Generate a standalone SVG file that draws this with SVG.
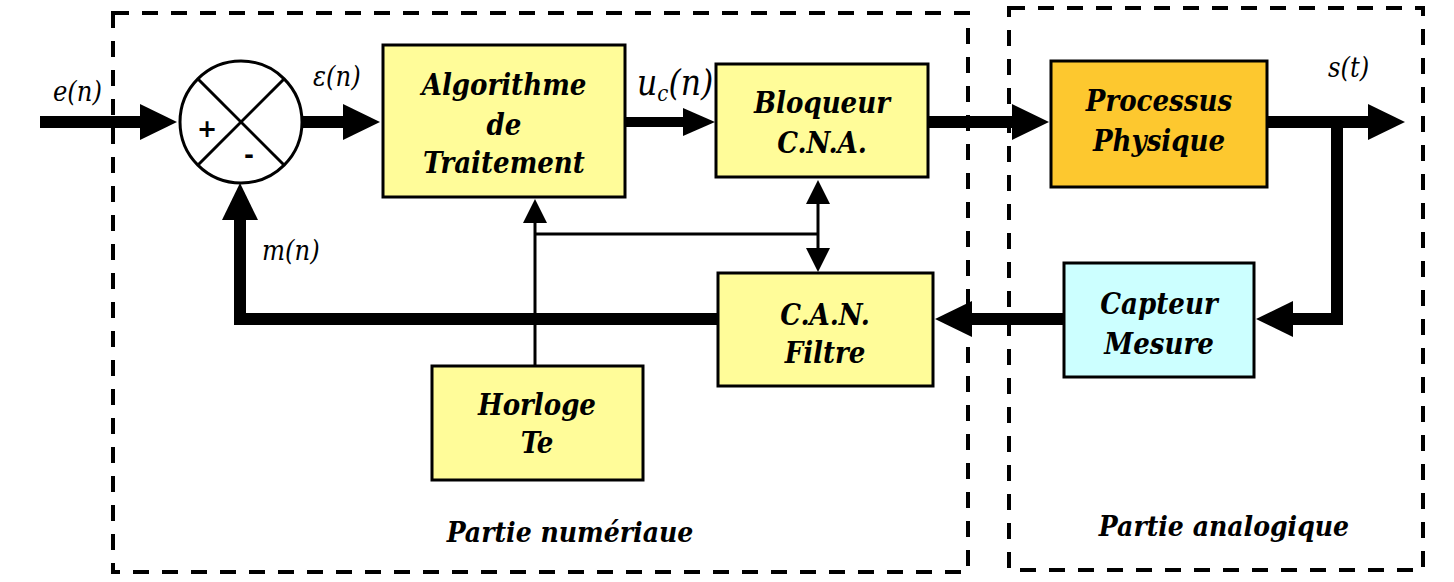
<svg xmlns="http://www.w3.org/2000/svg" width="1454" height="582" viewBox="0 0 1454 582">
<style>
.bg{fill:#fff}
.box{stroke:#000;stroke-width:3}
.yel{fill:#FFFC99}
.org{fill:#FDC82F}
.cyn{fill:#CCFFFF}
.dash{fill:none;stroke:#000;stroke-width:4;stroke-dasharray:16 13}
.lbl{font-weight:bold;font-style:italic;font-size:29px;font-stretch:condensed;text-anchor:middle;fill:#000}
.part{font-weight:bold;font-style:italic;font-size:28px;font-stretch:condensed;text-anchor:middle;fill:#000}
.sig{font-style:italic;font-size:27px;font-stretch:condensed;fill:#000}
.thick{fill:none;stroke:#000;stroke-width:12;stroke-linejoin:miter}
.med{fill:none;stroke:#000;stroke-width:10}
.thin{fill:none;stroke:#000;stroke-width:3}
.sign{font-weight:bold;font-size:24px;text-anchor:middle;fill:#000}
</style>
<defs>
<marker id="ah" viewBox="0 0 37 36" refX="1" refY="18" markerWidth="37" markerHeight="36" markerUnits="userSpaceOnUse" orient="auto-start-reverse"><path d="M0,0 L37,18 L0,36 z" fill="#000"/></marker>
<marker id="am" viewBox="0 0 32 28" refX="1" refY="14" markerWidth="32" markerHeight="28" markerUnits="userSpaceOnUse" orient="auto-start-reverse"><path d="M0,0 L32,14 L0,28 z" fill="#000"/></marker>
<marker id="as" viewBox="0 0 24 24" refX="1" refY="12" markerWidth="24" markerHeight="24" markerUnits="userSpaceOnUse" orient="auto-start-reverse"><path d="M0,0 L24,12 L0,24 z" fill="#000"/></marker>
</defs>
<rect class="bg" x="0" y="0" width="1454" height="582"/>

<g id="zones" font-family="DejaVu Serif Condensed, DejaVu Serif, serif">
<rect class="dash" x="113" y="13" width="855" height="559"/>
<rect class="dash" x="1009" y="8" width="414" height="562"/>
<text class="part" x="570" y="542">Partie numériaue</text>
<text class="part" x="1224" y="536">Partie analogique</text>
</g>

<g id="connectors">
<line class="thick" x1="40" y1="122" x2="141" y2="122" marker-end="url(#ah)"/>
<line class="thick" x1="302" y1="122" x2="344" y2="122" marker-end="url(#ah)"/>
<line class="med" x1="625" y1="122" x2="684" y2="122" marker-end="url(#am)"/>
<line class="thick" x1="928" y1="122" x2="1013" y2="122" marker-end="url(#ah)"/>
<line class="thick" x1="1266" y1="122" x2="1369" y2="122" marker-end="url(#ah)"/>
<polyline class="thick" points="1337,122 1337,319 1292,319" marker-end="url(#ah)"/>
<line class="thick" x1="1063" y1="319" x2="971" y2="319" marker-end="url(#ah)"/>
<polyline class="thick" points="719,319 240,319 240,219" marker-end="url(#ah)"/>
<line class="thin" x1="535" y1="366" x2="535" y2="222" marker-end="url(#as)"/>
<line class="thin" x1="535" y1="234" x2="818" y2="234"/>
<line class="thin" x1="818" y1="203" x2="818" y2="249" marker-start="url(#as)" marker-end="url(#as)"/>
</g>

<g id="labels" font-family="DejaVu Serif Condensed, DejaVu Serif, serif">
<text class="sig" x="53" y="101">e(n)</text>
<text class="sig" x="313" y="86">ε(n)</text>
<text class="sig" x="637" y="95" style="font-size:35px">u<tspan style="font-size:22px" dy="6">c</tspan><tspan dy="-6">(n)</tspan></text>
<text class="sig" x="1328" y="77">s(t)</text>
<text class="sig" x="262" y="260">m(n)</text>
</g>

<g id="sum" font-family="DejaVu Sans, sans-serif">
<circle cx="241" cy="122" r="61" fill="#fff" stroke="#000" stroke-width="3"/>
<line class="thin" x1="198" y1="79" x2="284" y2="165"/>
<line class="thin" x1="284" y1="79" x2="198" y2="165"/>
<text class="sign" x="207" y="137">+</text>
<text class="sign" x="249" y="163">-</text>
</g>

<g id="algo" font-family="DejaVu Serif Condensed, DejaVu Serif, serif">
<rect class="box yel" x="383" y="45" width="242" height="152"/>
<text class="lbl" x="504" y="95">Algorithme</text>
<text class="lbl" x="504" y="135">de</text>
<text class="lbl" x="504" y="173">Traitement</text>
</g>

<g id="bloqueur" font-family="DejaVu Serif Condensed, DejaVu Serif, serif">
<rect class="box yel" x="716" y="64" width="212" height="113"/>
<text class="lbl" x="822" y="113">Bloqueur</text>
<text class="lbl" x="822" y="153">C.N.A.</text>
</g>

<g id="processus" font-family="DejaVu Serif Condensed, DejaVu Serif, serif">
<rect class="box org" x="1051" y="61" width="216" height="126"/>
<text class="lbl" x="1159" y="111">Processus</text>
<text class="lbl" x="1159" y="151">Physique</text>
</g>

<g id="capteur" font-family="DejaVu Serif Condensed, DejaVu Serif, serif">
<rect class="box cyn" x="1064" y="263" width="190" height="114"/>
<text class="lbl" x="1159" y="314">Capteur</text>
<text class="lbl" x="1159" y="354">Mesure</text>
</g>

<g id="can" font-family="DejaVu Serif Condensed, DejaVu Serif, serif">
<rect class="box yel" x="718" y="273" width="215" height="113"/>
<text class="lbl" x="825" y="325">C.A.N.</text>
<text class="lbl" x="825" y="363">Filtre</text>
</g>

<g id="horloge" font-family="DejaVu Serif Condensed, DejaVu Serif, serif">
<rect class="box yel" x="432" y="366" width="211" height="114"/>
<text class="lbl" x="537" y="415">Horloge</text>
<text class="lbl" x="537" y="453">Te</text>
</g>
</svg>
